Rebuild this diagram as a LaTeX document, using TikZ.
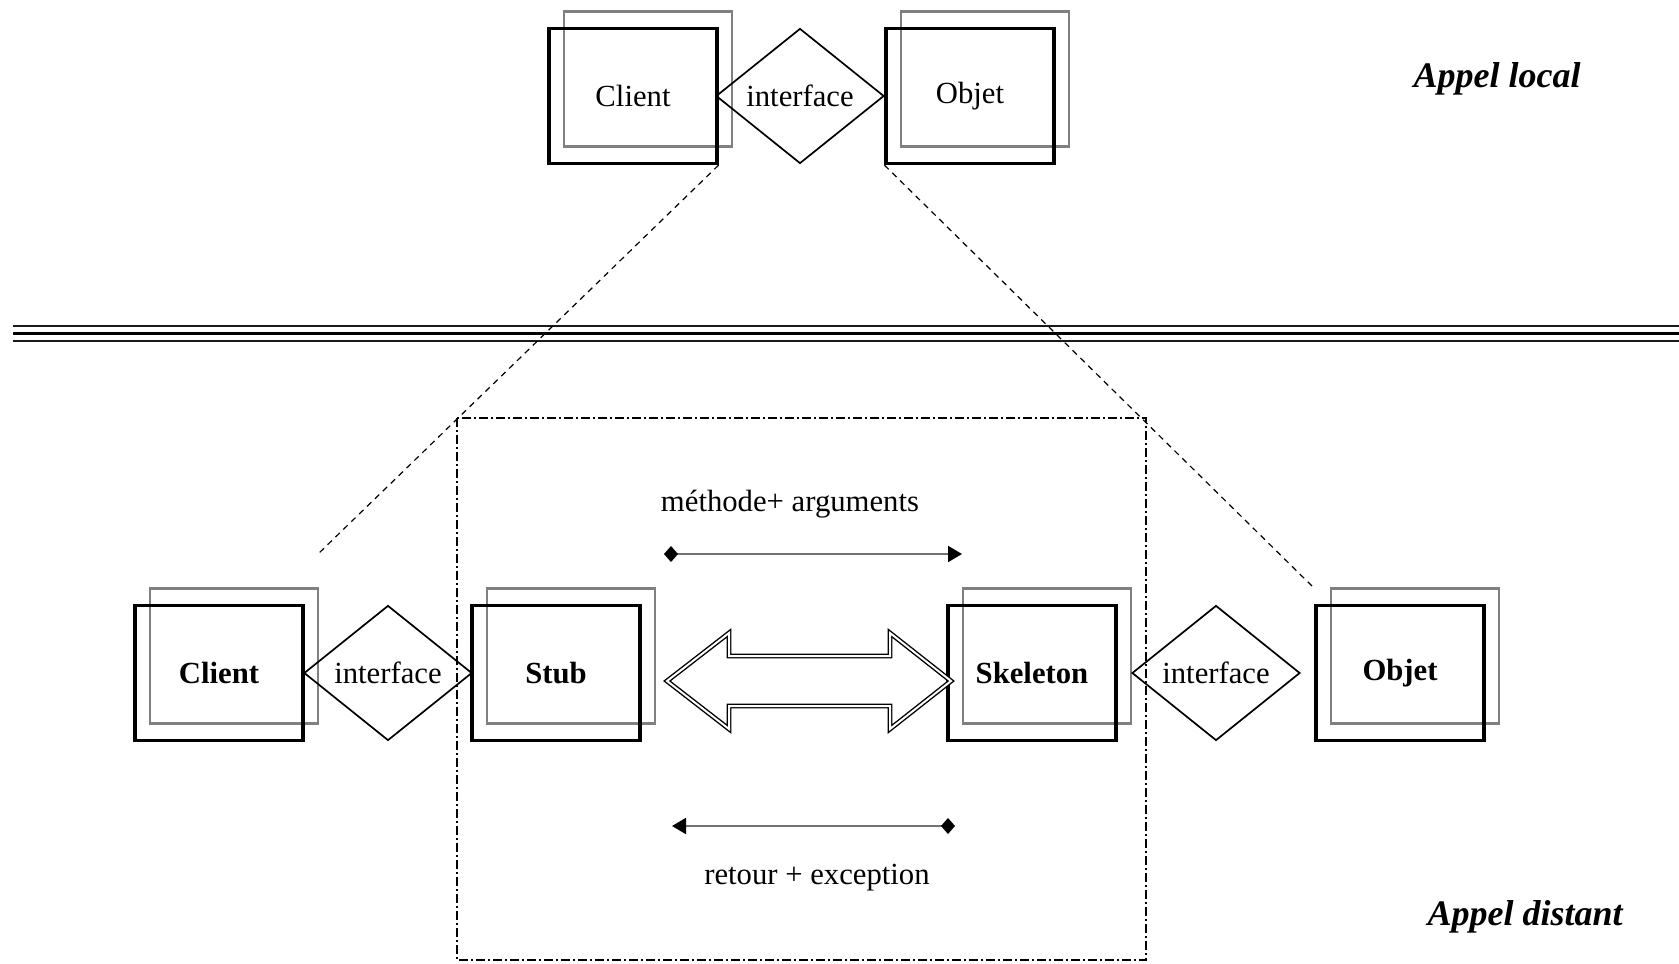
\documentclass[tikz,border=0pt]{standalone}
\usepackage{fontspec}
\setmainfont{Liberation Serif}
\usetikzlibrary{shapes.geometric,arrows.meta}
\tikzset{
  txt/.style={font=\fontsize{15.35}{18}\selectfont, inner sep=0pt},
  blackbox/.style={draw, line width=1.6pt, minimum width=84pt, minimum height=67.5pt, inner sep=0pt, font=\fontsize{15.35}{18}\selectfont},
  boldbox/.style={blackbox, font=\fontsize{15.35}{18}\selectfont\bfseries},
  graybox/.style={draw=black!50, line width=1.3pt, minimum width=84pt, minimum height=67.5pt, inner sep=0pt},
  iface/.style={draw, diamond, line width=0.85pt, minimum width=84pt, minimum height=67.5pt, inner sep=0pt},
  zoomline/.style={line width=0.6pt, dash pattern=on 3pt off 2.5pt},
  frame/.style={line width=0.75pt, dash pattern=on 4.5pt off 1.5pt on 1pt off 1.5pt},
  msg/.style={line width=1pt, draw=black!55, {Diamond[length=7pt,width=8pt,black]}-{Triangle[length=7pt,width=8pt,black]}},
  septhin/.style={line width=1.2pt, black!90},
  septhick/.style={line width=1.7pt, black},
  title/.style={font=\fontsize{18}{21}\selectfont\bfseries\itshape, inner sep=0pt}
}
\begin{document}
\begin{tikzpicture}[x=0.5pt,y=-0.5pt]
\useasboundingbox (0,0) rectangle (1679,963);
% separator
\draw[septhin] (13,326) -- (1679,326);
\draw[septhick] (13,333.5) -- (1679,333.5);
\draw[septhin] (13,341) -- (1679,341);
% top row: local call
\node[graybox] (tcg) at (648,79) {};
\node[blackbox] (tc) at (633,96) {Client};
\node[iface] (ti) at (800,96) {};
\node[txt] (til) at (ti) {interface};
\node[graybox] (tog) at (985,79) {};
\node[blackbox] (to) at (970,96) {Objet};
\node[title] (al) at (1497,79) {Appel local};
% frame
\draw[frame] (457,418) rectangle (1146,960);
% bottom row: remote call
\node[graybox] (bcg) at (234,656) {};
\node[boldbox] (bc) at (219,673) {Client};
\node[iface] (bi1) at (388,673) {};
\node[txt] (bi1l) at (bi1) {interface};
\node[graybox] (bsg) at (571,656) {};
\node[boldbox] (bs) at (556,673) {Stub};
\node[graybox] (bkg) at (1047,656) {};
\node[boldbox] (bk) at (1032,673) {Skeleton};
\node[iface] (bi2) at (1216,673) {};
\node[txt] (bi2l) at (bi2) {interface};
\node[graybox] (bog) at (1415,656) {};
\node[boldbox] (bo) at (1400,673) {Objet};
\node[title] (ad) at (1525,917) {Appel distant};
% zoom lines
\coordinate (zl) at (317,555);
\coordinate (zr) at (1313,587);
\draw[zoomline] (tc.south east) -- (zl);
\draw[zoomline] (to.south west) -- (zr);
% double arrow between stub and skeleton
\draw[double, double distance=1pt, line width=0.7pt]
  (667,681) -- (729,633) -- (729,656) -- (890,656) -- (890,633) -- (951,681)
  -- (890,729) -- (890,706) -- (729,706) -- (729,729) -- cycle;
% messages
\node[txt] (m1) at (790,504) {méthode+ arguments};
\coordinate (m1a) at (664,554);
\coordinate (m1b) at (962,554);
\draw[msg] (m1a) -- (m1b);
\node[txt] (m2) at (817,878) {retour + exception};
\coordinate (m2a) at (955,826);
\coordinate (m2b) at (672,826);
\draw[msg] (m2a) -- (m2b);
\end{tikzpicture}
\end{document}
